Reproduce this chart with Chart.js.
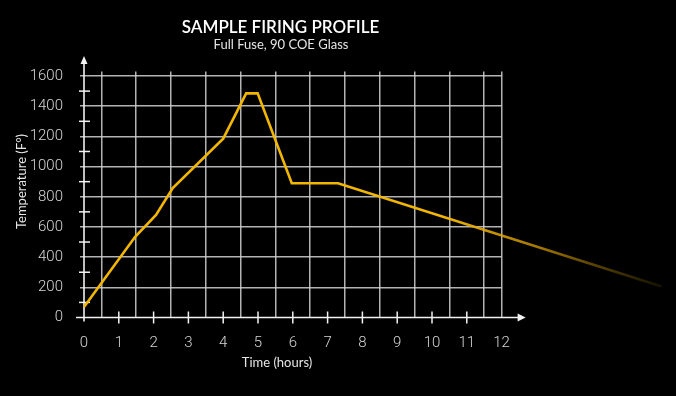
<!DOCTYPE html>
<html>
<head>
<meta charset="utf-8">
<script src="https://cdn.jsdelivr.net/npm/chart.js@4/dist/chart.umd.min.js"></script>
<style>
html, body { margin: 0; padding: 0; background: #000; }
#wrap { width: 676px; height: 396px; position: relative; }
</style>
</head>
<body>
<div id="wrap"><canvas id="c" width="676" height="396"></canvas></div>
<script>
// ---- data ----
const hours = [0, 1.47, 2.07, 2.55, 4.0, 4.66, 4.99, 5.97, 7.3, 16.6];
const temps = [70, 535, 680, 858, 1185, 1485, 1485, 890, 890, 205];

// ---- ticks / labels ----
const xTickValues = [0, 1, 2, 3, 4, 5, 6, 7, 8, 9, 10, 11, 12];
const xTickMarks = [1, 2, 3, 4, 5, 6, 7, 8, 9, 10, 11];
const xGridValues = [0.5, 1.5, 2.5, 3.5, 4.5, 5.5, 6.5, 7.5, 8.5, 9.5, 10.5, 11.5, 12];
const yTickValues = [0, 200, 400, 600, 800, 1000, 1200, 1400, 1600];
const yTickMarks = [100, 300, 500, 700, 900, 1100, 1300, 1500];
const chartTitle = 'SAMPLE FIRING PROFILE';
const chartSubtitle = 'Full Fuse, 90 COE Glass';
const xTitle = 'Time (hours)';
const yTitle = 'Temperature (F°)';

// ---- style ----
const lineColor = 'rgb(242,182,0)';
const gridColor = 'rgba(210,210,210,0.85)';
const axisColor = '#f2f2f2';
const tickFont = { family: "Roboto, 'DejaVu Sans', sans-serif", size: 15, weight: '300' };

const decorPlugin = {
  id: 'decor',
  beforeDatasetsDraw(chart) {
    const { ctx, scales: { x, y } } = chart;
    const y0 = y.getPixelForValue(0);
    const x0 = x.getPixelForValue(0);
    ctx.save();
    ctx.strokeStyle = axisColor;
    ctx.fillStyle = axisColor;
    ctx.lineWidth = 1.6;
    // y axis
    ctx.beginPath();
    ctx.moveTo(x0, y0 + 4);
    ctx.lineTo(x0, 62);
    ctx.stroke();
    ctx.beginPath();
    ctx.moveTo(x0, 56);
    ctx.lineTo(x0 - 3.5, 64);
    ctx.lineTo(x0 + 3.5, 64);
    ctx.closePath();
    ctx.fill();
    // x axis
    const xEnd = x.getPixelForValue(12) + 17;
    ctx.beginPath();
    ctx.moveTo(x0 - 8, y0);
    ctx.lineTo(xEnd, y0);
    ctx.stroke();
    ctx.beginPath();
    ctx.moveTo(xEnd + 7, y0);
    ctx.lineTo(xEnd - 1, y0 - 4);
    ctx.lineTo(xEnd - 1, y0 + 4);
    ctx.closePath();
    ctx.fill();
    // crossing tick marks
    ctx.lineWidth = 1.5;
    yTickMarks.forEach(v => {
      const py = y.getPixelForValue(v);
      ctx.beginPath();
      ctx.moveTo(x0 - 5, py);
      ctx.lineTo(x0 + 6, py);
      ctx.stroke();
    });
    xTickMarks.forEach(v => {
      const px = x.getPixelForValue(v);
      ctx.beginPath();
      ctx.moveTo(px, y0 - 6);
      ctx.lineTo(px, y0 + 6);
      ctx.stroke();
    });
    ctx.restore();
  },
  afterDraw(chart) {
    const { ctx } = chart;
    ctx.save();
    ctx.textAlign = 'center';
    ctx.textBaseline = 'middle';
    ctx.fillStyle = '#ffffff';
    ctx.font = "600 17px Lato, 'Open Sans', sans-serif";
    ctx.fillText(chartTitle, 280.5, 28);
    ctx.fillStyle = '#e6e6e6';
    ctx.font = "13px Lato, 'Open Sans', sans-serif";
    ctx.fillText(chartSubtitle, 281, 45);
    ctx.fillText(xTitle, 277, 363);
    ctx.translate(22, 181.5);
    ctx.rotate(-Math.PI / 2);
    ctx.fillText(yTitle, 0, 0);
    ctx.restore();
  }
};

new Chart(document.getElementById('c'), {
  type: 'line',
  data: {
    datasets: [{
      data: hours.map((h, i) => ({ x: h, y: temps[i] })),
      borderColor(c) {
        const chart = c.chart;
        const { ctx, chartArea, scales } = chart;
        if (!chartArea || !scales.x) return lineColor;
        const xa = scales.x.getPixelForValue(10.3);
        const xb = scales.x.getPixelForValue(16.6);
        const g = ctx.createLinearGradient(xa, 0, xb, 0);
        g.addColorStop(0, 'rgba(242,182,0,1)');
        g.addColorStop(0.45, 'rgba(215,155,0,0.75)');
        g.addColorStop(1, 'rgba(150,120,0,0.15)');
        return g;
      },
      borderWidth: 2.6,
      pointRadius: 0,
      tension: 0,
      clip: false
    }]
  },
  options: {
    responsive: false,
    animation: false,
    events: [],
    layout: { padding: { left: 0, right: 174.4, top: 71.5, bottom: 0 } },
    plugins: { legend: { display: false }, tooltip: { enabled: false }, title: { display: false } },
    scales: {
      x: {
        type: 'linear',
        min: 0,
        max: 12,
        afterFit(s) { s.height = 78.5; },
        afterBuildTicks(s) {
          const vals = [...new Set([...xTickValues, ...xGridValues])].sort((a, b) => a - b);
          s.ticks = vals.map(v => ({ value: v }));
        },
        border: { display: false },
        grid: {
          drawTicks: false,
          lineWidth: 1.5,
          color(c) { return xGridValues.includes(c.tick.value) ? gridColor : 'rgba(0,0,0,0)'; }
        },
        ticks: {
          autoSkip: false,
          maxRotation: 0,
          padding: 16.5,
          color: '#d6d6d6',
          font: tickFont,
          callback(v) { return xTickValues.includes(v) ? String(v) : ''; }
        }
      },
      y: {
        type: 'linear',
        min: 0,
        max: 1630,
        afterFit(s) { s.width = 84; },
        afterBuildTicks(s) { s.ticks = yTickValues.map(v => ({ value: v })); },
        border: { display: false },
        grid: {
          drawTicks: true,
          tickLength: 4,
          lineWidth: 1.5,
          color(c) { return c.tick.value === 0 ? 'rgba(0,0,0,0)' : gridColor; },
          tickColor(c) { return c.tick.value === 0 ? 'rgba(0,0,0,0)' : gridColor; }
        },
        ticks: {
          padding: 17,
          color: '#d6d6d6',
          font: tickFont,
          callback(v) { return String(v); }
        }
      }
    }
  },
  plugins: [decorPlugin]
});
</script>
</body>
</html>
